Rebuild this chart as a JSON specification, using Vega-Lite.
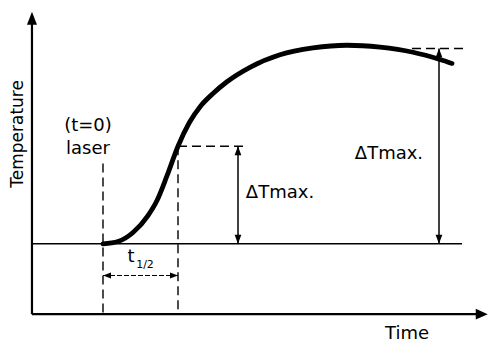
{
  "$schema": "https://vega.github.io/schema/vega-lite/v6.json",
  "width": 489,
  "height": 344,
  "autosize": {"type": "fit", "contains": "padding"},
  "padding": 0,
  "background": "white",
  "config": {"view": {"stroke": null}, "text": {"font": "DejaVu Sans", "color": "black"}},
  "datasets": {
    "curve": [
      {"x": 0, "y": 0},
      {"x": 0.2, "y": 0.012},
      {"x": 0.4, "y": 0.058},
      {"x": 0.6, "y": 0.145},
      {"x": 0.72, "y": 0.222},
      {"x": 0.85, "y": 0.345},
      {"x": 1.0, "y": 0.5},
      {"x": 1.15, "y": 0.62},
      {"x": 1.3, "y": 0.705},
      {"x": 1.467, "y": 0.77},
      {"x": 1.653, "y": 0.83},
      {"x": 1.96, "y": 0.904},
      {"x": 2.36, "y": 0.968},
      {"x": 2.8, "y": 1.003},
      {"x": 3.253, "y": 1.017},
      {"x": 3.693, "y": 1.007},
      {"x": 4.133, "y": 0.981},
      {"x": 4.493, "y": 0.944},
      {"x": 4.653, "y": 0.924}
    ],
    "thick": [
      {"x": -0.947, "y": -0.36, "x2": -0.947, "y2": 1.127},
      {"x": -0.947, "y": -0.36, "x2": 4.99, "y2": -0.36}
    ],
    "thin": [
      {"x": -0.947, "y": 0, "x2": 4.787, "y2": 0},
      {"x": 4.48, "y": 0, "x2": 4.48, "y2": 1.0},
      {"x": 1.8, "y": 0, "x2": 1.8, "y2": 0.5}
    ],
    "dashed": [
      {"x": 0, "y": 0.411, "x2": 0, "y2": -0.36},
      {"x": 1, "y": 0.5, "x2": 1, "y2": -0.36},
      {"x": 1, "y": 0.5, "x2": 1.933, "y2": 0.5},
      {"x": 4.12, "y": 1.0, "x2": 4.867, "y2": 1.0}
    ],
    "fine": [
      {"x": 0, "y": -0.162, "x2": 1, "y2": -0.162}
    ],
    "headsUp": [{"x": 1.8, "y": 0.5}, {"x": 4.48, "y": 1.0}],
    "headsDown": [{"x": 1.8, "y": 0}, {"x": 4.48, "y": 0}],
    "headsLeft": [{"x": 0, "y": -0.162}],
    "headsRight": [{"x": 1, "y": -0.162}],
    "axisUp": [{"x": -0.947, "y": 1.188}],
    "axisRight": [{"x": 5.13, "y": -0.36}],
    "labels": [
      {"x": -0.2, "y": 0.604, "text": "(t=0)"},
      {"x": -0.2, "y": 0.487, "text": "laser"},
      {"x": 2.36, "y": 0.259, "text": "ΔTmax."},
      {"x": 3.813, "y": 0.462, "text": "ΔTmax."},
      {"x": 4.053, "y": -0.462, "text": "Time"},
      {"x": 0.373, "y": -0.066, "text": "t"}
    ],
    "sub": [{"x": 0.56, "y": -0.107, "text": "1/2"}],
    "ylab": [{"x": -1.133, "y": 0.563, "text": "Temperature"}]
  },
  "encoding": {
    "x": {"field": "x", "type": "quantitative", "scale": {"domain": [-1.3733, 5.1467], "nice": false, "zero": false}, "axis": null},
    "y": {"field": "y", "type": "quantitative", "scale": {"domain": [-0.4975, 1.2487], "nice": false, "zero": false}, "axis": null}
  },
  "layer": [
    {"data": {"name": "thick"}, "mark": {"type": "rule", "strokeWidth": 2.2, "color": "black"}, "encoding": {"x2": {"field": "x2"}, "y2": {"field": "y2"}}},
    {"data": {"name": "thin"}, "mark": {"type": "rule", "strokeWidth": 1.5, "color": "black"}, "encoding": {"x2": {"field": "x2"}, "y2": {"field": "y2"}}},
    {"data": {"name": "dashed"}, "mark": {"type": "rule", "strokeWidth": 1.4, "color": "black", "strokeDash": [9, 5]}, "encoding": {"x2": {"field": "x2"}, "y2": {"field": "y2"}}},
    {"data": {"name": "fine"}, "mark": {"type": "rule", "strokeWidth": 1.1, "color": "black", "strokeDash": [5, 2]}, "encoding": {"x2": {"field": "x2"}, "y2": {"field": "y2"}}},
    {"data": {"name": "curve"}, "mark": {"type": "line", "interpolate": "monotone", "strokeWidth": 4.8, "color": "black", "strokeCap": "round"}},
    {"data": {"name": "headsUp"}, "mark": {"type": "point", "shape": "M0,0L-0.75,2L0.75,2Z", "size": 81, "filled": true, "color": "black", "opacity": 1}},
    {"data": {"name": "headsDown"}, "mark": {"type": "point", "shape": "M0,0L-0.75,-2L0.75,-2Z", "size": 81, "filled": true, "color": "black", "opacity": 1}},
    {"data": {"name": "headsLeft"}, "mark": {"type": "point", "shape": "M0,0L2,-0.75L2,0.75Z", "size": 64, "filled": true, "color": "black", "opacity": 1}},
    {"data": {"name": "headsRight"}, "mark": {"type": "point", "shape": "M0,0L-2,-0.75L-2,0.75Z", "size": 64, "filled": true, "color": "black", "opacity": 1}},
    {"data": {"name": "axisUp"}, "mark": {"type": "point", "shape": "M0,0L-0.77,2L0.77,2Z", "size": 169, "filled": true, "color": "black", "opacity": 1}},
    {"data": {"name": "axisRight"}, "mark": {"type": "point", "shape": "M0,0L-2,-0.9L-2,0.9Z", "size": 144, "filled": true, "color": "black", "opacity": 1}},
    {"data": {"name": "labels"}, "mark": {"type": "text", "fontSize": 18, "align": "center", "baseline": "middle"}, "encoding": {"text": {"field": "text"}}},
    {"data": {"name": "sub"}, "mark": {"type": "text", "fontSize": 11, "align": "center", "baseline": "middle"}, "encoding": {"text": {"field": "text"}}},
    {"data": {"name": "ylab"}, "mark": {"type": "text", "fontSize": 17, "angle": 270, "align": "center", "baseline": "middle"}, "encoding": {"text": {"field": "text"}}}
  ]
}
